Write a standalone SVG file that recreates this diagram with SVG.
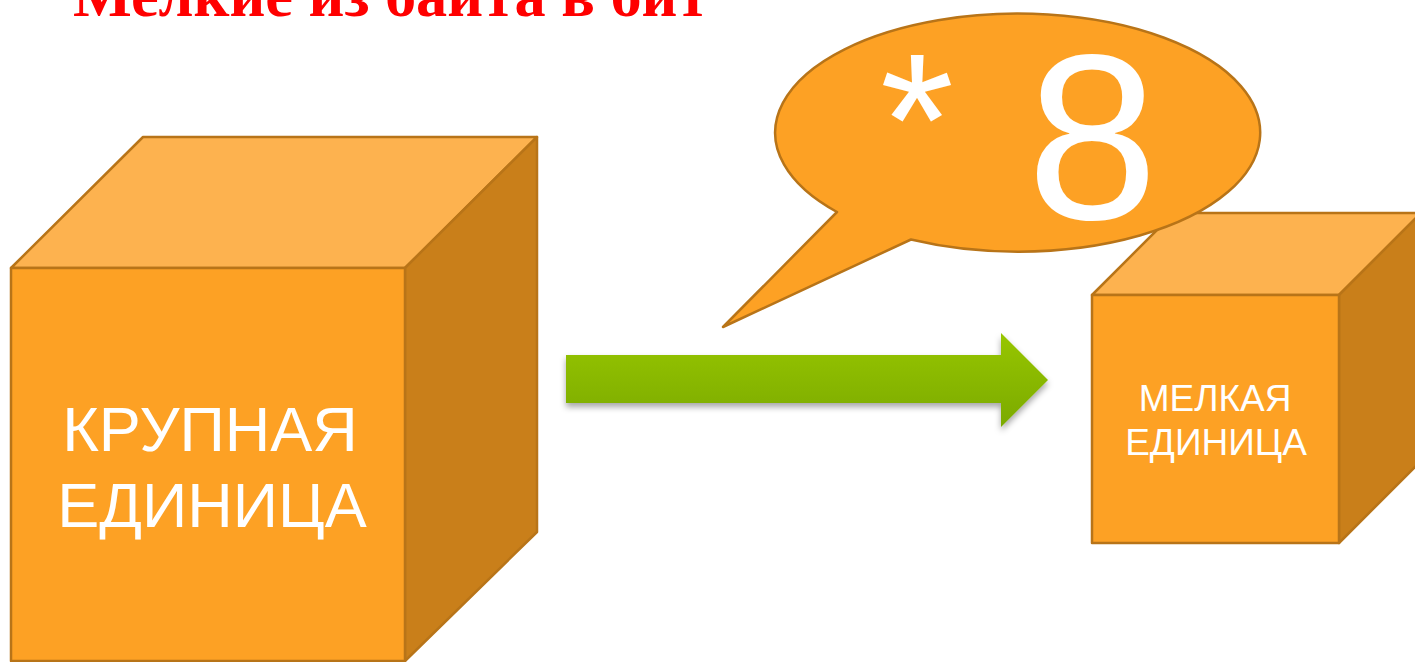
<svg xmlns="http://www.w3.org/2000/svg" width="1415" height="662" viewBox="0 0 1415 662">
  <style>
    .edge { stroke: #B87418; stroke-width: 2.5; stroke-linejoin: round; }
    .top { fill: #FDB24F; }
    .front { fill: #FDA124; }
    .side { fill: #C97F1A; }
    .lbl { font-family: "Liberation Sans", Arial, sans-serif; fill: #FFFFFF; text-anchor: middle; }
    .title { font-family: "Liberation Serif", "Times New Roman", serif; font-weight: bold; fill: #FF0000; }
  </style>
  <defs>
    <linearGradient id="arrowGrad" x1="0" y1="0" x2="0" y2="1">
      <stop offset="0" stop-color="#97C600"/>
      <stop offset="1" stop-color="#7BAA00"/>
    </linearGradient>
    <filter id="shadow" x="-10%" y="-30%" width="120%" height="170%">
      <feDropShadow dx="0" dy="4" stdDeviation="3" flood-color="#000000" flood-opacity="0.35"/>
    </filter>
  </defs>
  <rect width="1415" height="662" fill="#FFFFFF"/>

  <g id="title">
    <text class="title" x="73" y="16" font-size="62" textLength="635" lengthAdjust="spacingAndGlyphs">Мелкие из байта в бит</text>
  </g>

  <g id="connectors">
    <polygon points="566,355 1001,355 1001,333 1048,380 1001,427 1001,403 566,403" fill="url(#arrowGrad)" filter="url(#shadow)"/>
  </g>

  <g id="big-cube">
    <polygon class="top edge" points="11,268 143,137 537,137 405,268"/>
    <polygon class="side edge" points="405,268 537,137 537,532 405,661"/>
    <rect class="front edge" x="11" y="268" width="394" height="393"/>
    <text class="lbl" font-size="63"><tspan x="210" y="451">КРУПНАЯ</tspan><tspan x="212" y="527">ЕДИНИЦА</tspan></text>
  </g>

  <g id="small-cube">
    <polygon class="top edge" points="1092,295 1174,213 1421,213 1339,295"/>
    <polygon class="side edge" points="1339,295 1421,213 1421,461 1339,543"/>
    <rect class="front edge" x="1092" y="295" width="247" height="248"/>
    <text class="lbl" font-size="37"><tspan x="1215" y="411">МЕЛКАЯ</tspan><tspan x="1216" y="455">ЕДИНИЦА</tspan></text>
  </g>

  <g id="callout">
    <path class="front edge" d="M911,239.5 L723,327 L837,212 A242.5,119 0 1 1 911,239.5 Z"/>
    <text class="lbl"><tspan x="917" y="185" font-size="190">*</tspan><tspan x="1092.5" y="219" font-size="236">8</tspan></text>
  </g>
</svg>
